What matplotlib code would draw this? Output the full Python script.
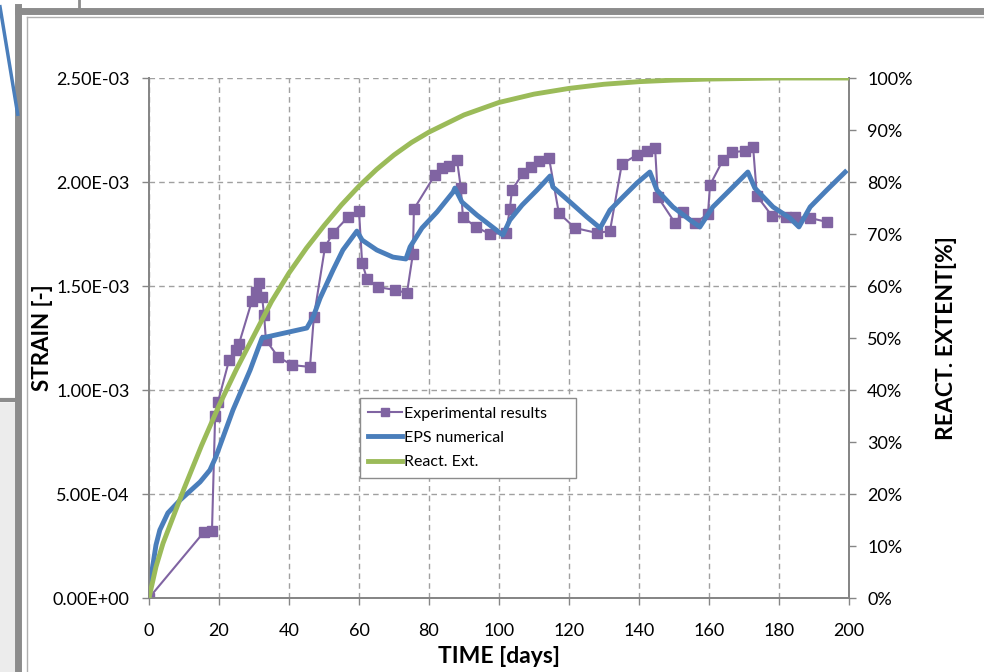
import numpy as np
import matplotlib.pyplot as plt
from matplotlib.lines import Line2D
from matplotlib.patches import Rectangle

plt.rcParams['font.family'] = ['Lato', 'DejaVu Sans']

# experimental results (days, strain x1e-3)
exp_days = [0, 15.7, 18.0, 18.9, 19.7, 22.9, 24.9, 25.7, 29.4, 30.6, 31.4, 32.3,
            32.9, 33.4, 36.9, 40.9, 46.0, 47.1, 50.3, 52.6, 56.9, 60.0, 60.9, 62.3,
            65.4, 70.3, 73.7, 75.4, 75.7, 81.7, 83.7, 85.7, 88.0, 89.1, 89.7, 93.4,
            97.4, 102.0, 103.1, 103.7, 106.9, 109.1, 111.4, 114.3, 117.1, 121.7,
            128.0, 131.7, 135.1, 139.4, 142.3, 144.6, 145.4, 150.3, 152.6, 156.0,
            159.7, 160.3, 164.0, 166.6, 170.3, 172.6, 173.7, 178.0, 182.0, 184.6,
            188.9, 193.7]
exp_strain = [0, 0.317, 0.322, 0.875, 0.942, 1.144, 1.192, 1.221, 1.428, 1.471,
              1.514, 1.447, 1.361, 1.240, 1.159, 1.120, 1.111, 1.351, 1.688, 1.755,
              1.832, 1.861, 1.611, 1.534, 1.495, 1.481, 1.466, 1.654, 1.870, 2.034,
              2.067, 2.077, 2.106, 1.971, 1.832, 1.784, 1.750, 1.755, 1.870, 1.962,
              2.043, 2.072, 2.101, 2.115, 1.851, 1.779, 1.755, 1.764, 2.087, 2.130,
              2.149, 2.163, 1.928, 1.803, 1.856, 1.803, 1.846, 1.986, 2.106, 2.144,
              2.149, 2.168, 1.933, 1.837, 1.832, 1.832, 1.827, 1.808]

# EPS numerical (days, strain x1e-3)
eps_days = [0, 0.9, 2.0, 3.1, 5.4, 8.9, 14.6, 17.4, 19.1, 24.0, 28.9, 32.3, 45.1,
            46.9, 48.9, 52.6, 55.4, 59.4, 60.9, 65.1, 69.7, 73.4, 74.6, 78.0, 82.3,
            86.9, 87.4, 89.4, 93.7, 97.4, 101.1, 103.1, 106.6, 110.9, 114.6, 115.4,
            120.3, 125.1, 128.9, 131.7, 135.4, 139.4, 143.1, 145.1, 149.7, 154.6,
            157.4, 161.1, 166.0, 171.1, 173.1, 178.3, 183.1, 185.7, 188.9, 193.7, 198.9]
eps_strain = [0, 0.135, 0.255, 0.327, 0.409, 0.471, 0.558, 0.615, 0.678, 0.904,
              1.096, 1.250, 1.298, 1.351, 1.442, 1.577, 1.673, 1.764, 1.721, 1.673,
              1.639, 1.630, 1.688, 1.779, 1.856, 1.952, 1.971, 1.904, 1.841, 1.793,
              1.745, 1.817, 1.889, 1.962, 2.029, 1.976, 1.904, 1.832, 1.779, 1.865,
              1.928, 1.995, 2.048, 1.962, 1.880, 1.817, 1.784, 1.880, 1.962, 2.048,
              1.971, 1.880, 1.827, 1.784, 1.880, 1.962, 2.048]

# reaction extent (days, %)
re_days = [0, 2, 4, 6, 8, 10, 15, 20, 25, 30, 35, 40, 45, 50, 55, 60, 65, 70, 75,
           80, 90, 100, 110, 120, 130, 140, 150, 160, 180, 200]
re_pct = [0, 6.0, 10.5, 14.0, 17.5, 21.0, 29.3, 37.0, 44.0, 50.5, 57.0, 62.5,
          67.3, 71.6, 75.6, 79.2, 82.4, 85.2, 87.6, 89.6, 92.9, 95.3, 96.9, 98.0,
          98.8, 99.3, 99.6, 99.8, 100, 100]

x_ticks = list(range(0, 201, 20))
y_ticks = [0, 5e-4, 1e-3, 1.5e-3, 2e-3, 2.5e-3]
y_labels = ['0.00E+00', '5.00E-04', '1.00E-03', '1.50E-03', '2.00E-03', '2.50E-03']
pct_ticks = list(range(0, 101, 10))

purple = '#8064A2'
blue = '#4A7EBB'
green = '#9BBB59'
gray = '#868686'

fig = plt.figure(figsize=(9.84, 6.72), dpi=100)

# screenshot frame around the chart
fig.add_artist(Line2D([0.018, 0.018], [0, 0.99], color='#8c8c8c', lw=5, transform=fig.transFigure))
fig.add_artist(Line2D([0.018, 1], [0.984, 0.984], color='#8c8c8c', lw=5, transform=fig.transFigure))
fig.add_artist(Line2D([0.027, 0.027], [0, 0.975], color='#b0b0b0', lw=1, transform=fig.transFigure))
fig.add_artist(Line2D([0.027, 1], [0.975, 0.975], color='#b0b0b0', lw=1, transform=fig.transFigure))
fig.add_artist(Line2D([0.08, 0.08], [0.985, 1], color='#8c8c8c', lw=2, transform=fig.transFigure))
fig.add_artist(Line2D([0.0, 0.018], [0.405, 0.405], color='#8c8c8c', lw=3, transform=fig.transFigure))
fig.add_artist(Rectangle((0, 0), 0.016, 0.4, color='#ececec', transform=fig.transFigure))
fig.add_artist(Line2D([0.0, 0.018], [0.99, 0.83], color=blue, lw=2.5, transform=fig.transFigure))

ax = fig.add_axes([0.1514, 0.1101, 0.7114, 0.7738])
ax.plot(exp_days, np.array(exp_strain) * 1e-3, color=purple, lw=1.5, marker='s',
        markersize=6.5, label='Experimental results', zorder=3)
ax.plot(eps_days, np.array(eps_strain) * 1e-3, color=blue, lw=3.5,
        solid_joinstyle='round', label='EPS numerical', zorder=4)

ax.set_xlim(0, 200)
ax.set_ylim(0, 2.5e-3)
ax.set_xticks(x_ticks)
ax.set_yticks(y_ticks)
ax.set_yticklabels(y_labels)
ax.grid(True, ls=(0, (4, 3)), color='#a0a0a0', lw=1)
ax.set_axisbelow(True)
for s in ['left', 'bottom', 'right']:
    ax.spines[s].set_color(gray)
    ax.spines[s].set_linewidth(1.3)
ax.spines['top'].set_visible(False)
ax.tick_params(colors=gray, labelcolor='black', labelsize=13, length=5, width=1)
ax.tick_params(axis='y', pad=9)
ax.tick_params(axis='x', pad=13)
ax.set_xlabel('TIME [days]', fontsize=16.5, fontweight='bold', labelpad=5)
ax.set_ylabel('STRAIN [-]', fontsize=16, fontweight='bold', labelpad=0)

ax2 = ax.twinx()
ax2.plot(re_days, re_pct, color=green, lw=3.5, label='React. Ext.', zorder=5)
ax2.set_ylim(0, 100)
ax2.set_yticks(pct_ticks)
ax2.set_yticklabels(['%d%%' % p for p in pct_ticks])
for s in ['left', 'bottom', 'right']:
    ax2.spines[s].set_color(gray)
    ax2.spines[s].set_linewidth(1.3)
ax2.spines['top'].set_visible(False)
ax2.tick_params(colors=gray, labelcolor='black', labelsize=13, length=5, width=1, pad=8)
ax2.set_ylabel('REACT. EXTENT[%]', fontsize=16.5, fontweight='bold', labelpad=17)

h1, l1 = ax.get_legend_handles_labels()
h2, l2 = ax2.get_legend_handles_labels()
leg = ax2.legend(h1 + h2, l1 + l2, loc='lower left', bbox_to_anchor=(0.301, 0.231, 0.309, 0.154),
                 mode='expand', borderaxespad=0, fontsize=11.5, fancybox=False, framealpha=1,
                 edgecolor='#8c8c8c', handlelength=2.1, handletextpad=0.1, borderpad=0.55,
                 labelspacing=0.62, markerscale=0.85)
leg.get_frame().set_linewidth(1)

fig.savefig('out.png', dpi=100)
